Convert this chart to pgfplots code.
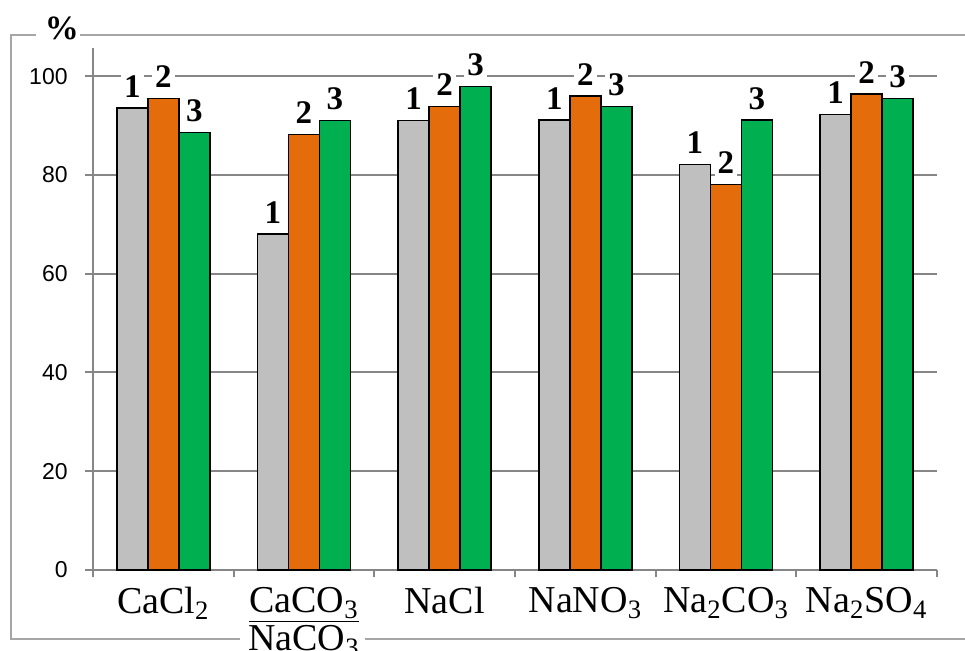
\documentclass[border=0pt]{standalone}
\usepackage{pgfplots}
\pgfplotsset{compat=1.18}
\usepackage{fontspec}
\setmainfont{Liberation Serif}
\newfontfamily\arial{Liberation Sans}
\definecolor{bargray}{RGB}{191,191,191}
\definecolor{barorange}{RGB}{228,108,10}
\definecolor{bargreen}{RGB}{0,176,80}
\definecolor{gridgray}{RGB}{134,134,134}
\definecolor{framegray}{RGB}{166,166,166}
\begin{document}
\begin{tikzpicture}
\useasboundingbox (0,0) rectangle (482.5pt,325pt);
% outer frame, broken by the % sign and the two-line label
\draw[framegray, line width=1.2pt] (18pt,307.5pt) -- (5.5pt,307.5pt) -- (5.5pt,5.5pt) -- (120pt,5.5pt);
\draw[framegray, line width=1.2pt] (40pt,307.5pt) -- (485pt,307.5pt);
\draw[framegray, line width=1.2pt] (182.5pt,5.5pt) -- (485pt,5.5pt);
\node[font=\fontsize{17}{17}\selectfont\bfseries] at (31pt,311pt) {\%};

\begin{axis}[
at={(46.5pt,40pt)}, anchor=south west,
scale only axis, width=422pt, height=261pt,
xmin=0, xmax=6, ymin=0, ymax=105.7,
axis x line=bottom, axis y line=left,
axis line style={gridgray, line width=1pt, -},
tick align=outside,
tick style={gridgray, line width=1pt},
major tick length=4pt, minor tick length=3.5pt,
ytick={0,20,...,100},
ymajorgrids, grid style={gridgray, line width=1pt},
yticklabel style={font=\arial\fontsize{11.5}{12}\selectfont, anchor=east, inner sep=0pt, xshift=-8.5pt},
/pgf/number format/assume math mode=true,
xtick={0.5,1.5,...,5.5},
major x tick style={draw=none},
minor xtick={0,1,...,6},
xticklabels={{CaCl\textsubscript{2}},{\underline{CaCO\textsubscript{3}}\\NaCO\textsubscript{3}},NaCl,{NaNO\textsubscript{3}},{Na\textsubscript{2}CO\textsubscript{3}},{Na\textsubscript{2}SO\textsubscript{4}}},
xticklabel style={font=\fontsize{19}{19}\selectfont, align=center, anchor=north, inner sep=0pt, yshift=-4.5pt},
ybar=0pt, bar width=15.5pt,
clip=false,
every node near coord/.append style={font=\fontsize{16.5}{17}\selectfont\bfseries, fill=white, inner sep=1.5pt, anchor=south, yshift=3.5pt},
]
\addplot[fill=bargray, draw=black, line width=0.75pt, nodes near coords={1}] coordinates {
(0.5,93.6) (1.5,68.0) (2.5,91.0) (3.5,91.1) (4.5,82.1) (5.5,92.2)};
\addplot[fill=barorange, draw=black, line width=0.75pt, nodes near coords={2}] coordinates {
(0.5,95.5) (1.5,88.2) (2.5,93.9) (3.5,96.0) (4.5,78.1) (5.5,96.4)};
\addplot[fill=bargreen, draw=black, line width=0.75pt, nodes near coords={3}] coordinates {
(0.5,88.6) (1.5,91.0) (2.5,97.9) (3.5,93.9) (4.5,91.1) (5.5,95.5)};
\end{axis}
\end{tikzpicture}
\end{document}
